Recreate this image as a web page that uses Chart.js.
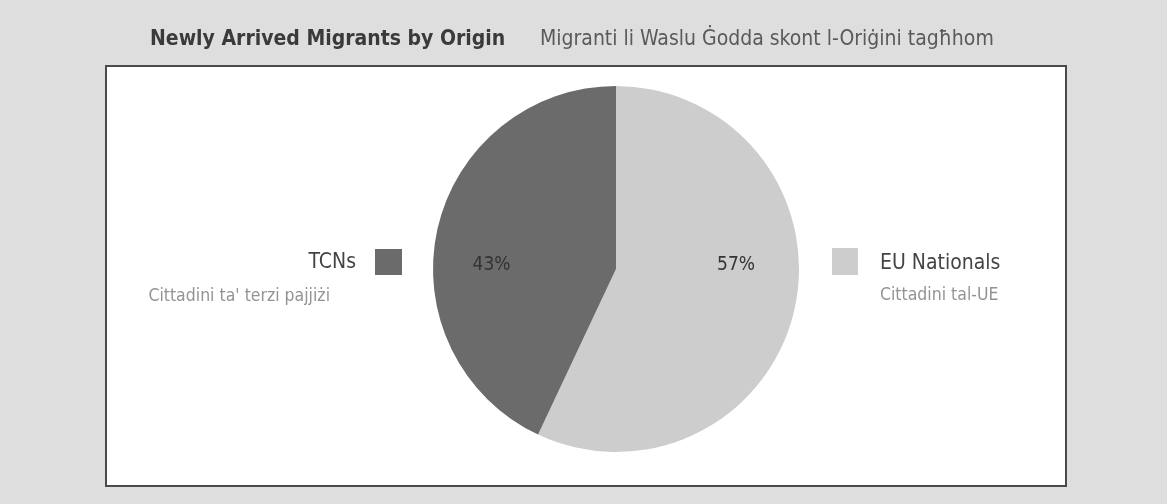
<!DOCTYPE html>
<html>
<head>
<meta charset="utf-8">
<script src="https://cdn.jsdelivr.net/npm/chart.js@4"></script>
<style>
  html, body { margin: 0; padding: 0; background: #dedede; }
  #wrap { position: relative; width: 1167px; height: 504px; }
  canvas { position: absolute; left: 0; top: 0; }
</style>
</head>
<body>
<div id="wrap"><canvas id="c" width="1167" height="504"></canvas></div>
<script>
// ---- data ----
const categories = ["EU Nationals", "TCNs"];
const categoriesMt = ["Cittadini tal-UE", "Cittadini ta' terzi pajjiżi"];
const shares = [57, 43];
const sliceColors = ["#cdcdcd", "#6b6b6b"];
const titleEn = "Newly Arrived Migrants by Origin";
const titleMt = "Migranti li Waslu Ġodda skont l-Oriġini tagħhom";

const FONT = "'Liberation Sans Narrow', 'DejaVu Sans Condensed', 'Liberation Sans', sans-serif";

const decor = {
  id: 'decor',
  beforeDraw(chart) {
    const ctx = chart.ctx;
    ctx.save();
    ctx.fillStyle = '#dedede';
    ctx.fillRect(0, 0, chart.width, chart.height);
    // white panel
    ctx.fillStyle = '#ffffff';
    ctx.fillRect(106, 66, 960, 420);
    ctx.strokeStyle = '#4a4a4a';
    ctx.lineWidth = 2;
    ctx.strokeRect(106, 66, 960, 420);
    // title
    ctx.textBaseline = 'middle';
    ctx.textAlign = 'left';
    ctx.font = "bold 21px " + FONT;
    ctx.fillStyle = '#3a3a3a';
    ctx.fillText(titleEn, 150, 40);
    ctx.font = "21px " + FONT;
    ctx.fillStyle = '#5a5a5a';
    ctx.fillText(titleMt, 540, 40);
    ctx.restore();
  },
  afterDraw(chart) {
    const ctx = chart.ctx;
    const meta = chart.getDatasetMeta(0);
    const arc0 = meta.data[0];
    const cx = arc0.x, cy = arc0.y, r = arc0.outerRadius;
    ctx.save();
    ctx.textBaseline = 'middle';
    // percentage labels
    ctx.font = "19px " + FONT;
    ctx.fillStyle = '#333333';
    ctx.textAlign = 'center';
    const ds = chart.data.datasets[0].data;
    const total = ds.reduce((a, b) => a + b, 0);
    const offs = [0.656, -0.68];
    ds.forEach((v, i) => {
      ctx.fillText(Math.round(v / total * 100) + '%', cx + offs[i] * r, cy - 4);
    });
    // side legends
    // EU (right)
    ctx.fillStyle = sliceColors[0];
    ctx.fillRect(cx + 216, cy - 21, 26, 27);
    ctx.textAlign = 'left';
    ctx.font = "21px " + FONT;
    ctx.fillStyle = '#444444';
    ctx.fillText(categories[0], cx + 264, cy - 5);
    ctx.font = "17.5px " + FONT;
    ctx.fillStyle = '#939393';
    ctx.fillText(categoriesMt[0], cx + 264, cy + 26);
    // TCN (left)
    ctx.fillStyle = sliceColors[1];
    ctx.fillRect(cx - 241, cy - 20, 27, 26);
    ctx.textAlign = 'right';
    ctx.font = "21px " + FONT;
    ctx.fillStyle = '#444444';
    ctx.fillText(categories[1], cx - 260, cy - 6);
    ctx.font = "17.5px " + FONT;
    ctx.fillStyle = '#939393';
    ctx.fillText(categoriesMt[1], cx - 286, cy + 27);
    ctx.restore();
  }
};

new Chart(document.getElementById('c'), {
  type: 'pie',
  data: {
    labels: categories,
    datasets: [{
      data: shares,
      backgroundColor: sliceColors,
      borderWidth: 0
    }]
  },
  options: {
    responsive: false,
    animation: false,
    layout: { padding: { top: 86, bottom: 52, left: 300, right: 235 } },
    plugins: {
      legend: { display: false },
      tooltip: { enabled: false },
      title: { display: false }
    }
  },
  plugins: [decor]
});
</script>
</body>
</html>
